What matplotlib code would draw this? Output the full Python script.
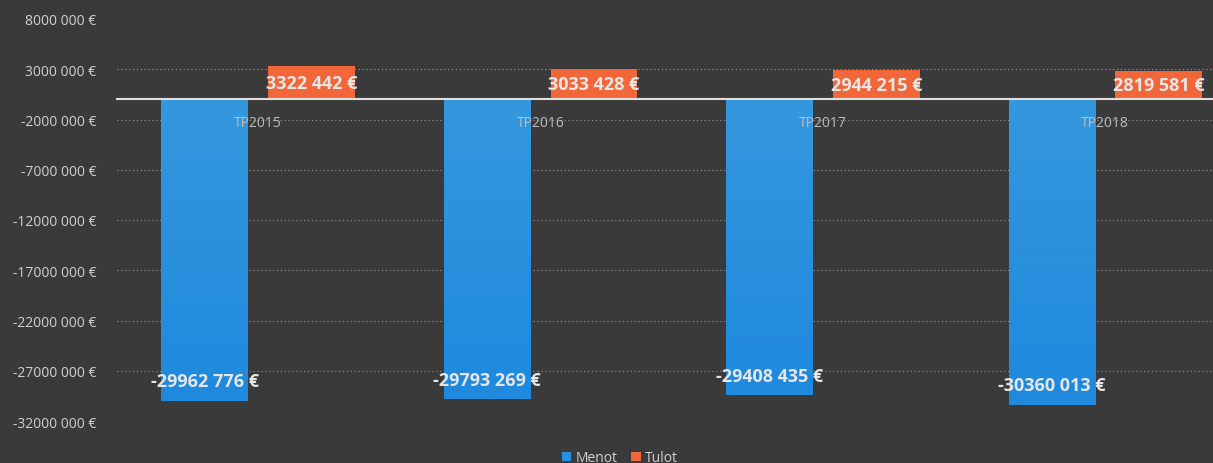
import numpy as np
import matplotlib.pyplot as plt
from matplotlib.colors import LinearSegmentedColormap

years = ["TP2015", "TP2016", "TP2017", "TP2018"]
menot = [-29962776, -29793269, -29408435, -30360013]
tulot = [3322442, 3033428, 2944215, 2819581]
yticks = [8000000, 3000000, -2000000, -7000000, -12000000, -17000000,
          -22000000, -27000000, -32000000]


def eur(v):
    v = int(v)
    sign = "-" if v < 0 else ""
    a = abs(v)
    return f"{sign}{a // 1000} {a % 1000:03d} €"


bg = "#3a3a3a"
blue = "#2790e0"
orange = "#f2673a"
txt = "#d0d0d0"

plt.rcParams['font.family'] = ['Open Sans', 'DejaVu Sans']

fig = plt.figure(figsize=(12.13, 4.64), dpi=100, facecolor=bg)
ax = fig.add_axes([117 / 1213, 1 - 422 / 464, 1 - 117 / 1213, 402 / 464])
ax.set_facecolor(bg)

x = np.arange(len(years))
w = 0.307
off = 0.189

b1 = ax.bar(x - off, menot, w, color=blue, zorder=3, label="Menot")
b2 = ax.bar(x + off, tulot, w, color=orange, zorder=3, label="Tulot")

# soft vertical gradient on the blue bars
cmap = LinearSegmentedColormap.from_list("bl", ["#3598df", "#1e89dd"])
grad = np.linspace(0, 1, 256).reshape(-1, 1)
for r in b1:
    x0, y0 = r.get_x(), r.get_y()
    im = ax.imshow(grad, cmap=cmap, aspect="auto", zorder=3.1,
                   extent=[x0, x0 + r.get_width(), y0 + r.get_height(), y0],
                   origin="upper")
    im.set_clip_path(r)

for i in range(len(years)):
    ax.text(x[i] - off, menot[i] + 1900000, eur(menot[i]), ha="center", va="center",
            fontsize=13, fontweight="bold", color="#e6e6e6", zorder=5)
    ax.text(x[i] + off, tulot[i] / 2, eur(tulot[i]), ha="center", va="center",
            fontsize=13, fontweight="bold", color="#e6e6e6", zorder=5)

ax.set_xlim(-0.5, 3.5 - 33.5 / 283)
ax.set_ylim(-32000000, 8000000)
ax.set_yticks(yticks)
ax.set_yticklabels([eur(v) for v in yticks])
ax.tick_params(axis="y", length=0, colors=txt, labelsize=10, pad=15)

ax.set_xticks(x)
ax.set_xticklabels(years)
ax.tick_params(axis="x", length=0, colors="#bdbdbd", labelsize=10, pad=11)
ax.xaxis.set_zorder(6)

for s in ["top", "right", "left"]:
    ax.spines[s].set_visible(False)
ax.spines["bottom"].set_position(("data", 0))
ax.spines["bottom"].set_color("#e0e0e0")
ax.spines["bottom"].set_linestyle((0, (3, 1)))
ax.spines["bottom"].set_linewidth(1.5)
ax.spines["bottom"].set_zorder(4)

for v in yticks[1:]:
    ax.axhline(v, color="#9a9a9a", linestyle=(0, (1, 2.5)), linewidth=0.8, zorder=1)

leg = fig.legend(handles=[b1, b2], loc="lower center", bbox_to_anchor=(620 / 1213, -0.032),
                 ncol=2, frameon=False, fontsize=10, labelcolor=txt,
                 handlelength=0.7, handleheight=0.7, handletextpad=0.3, columnspacing=1.0)

fig.savefig("out.png", dpi=100, facecolor=bg)
